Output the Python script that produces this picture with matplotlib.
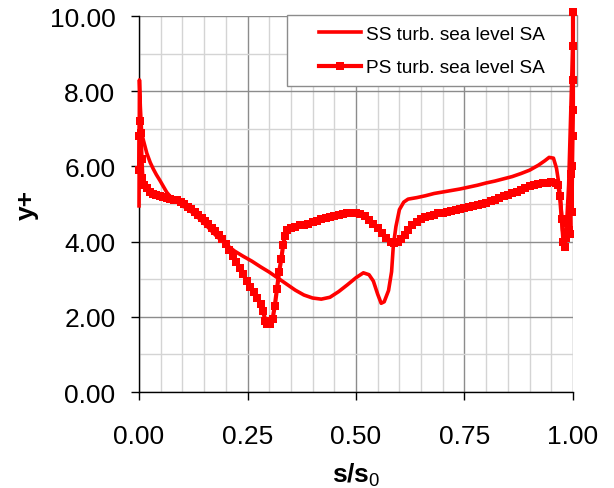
import matplotlib
matplotlib.use("Agg")
import matplotlib.pyplot as plt
from matplotlib.patches import Rectangle
from matplotlib.ticker import MultipleLocator

plt.rcParams['font.family'] = ['Liberation Sans', 'DejaVu Sans']
plt.rcParams['mathtext.fontset'] = 'custom'
plt.rcParams['mathtext.rm'] = 'Liberation Sans'
plt.rcParams['mathtext.bf'] = 'Liberation Sans:bold'

# suction side, y+ along the blade surface
ss_x = [0.000, 0.001, 0.003, 0.006, 0.010, 0.018, 0.026, 0.033, 0.040, 0.048,
        0.056, 0.064, 0.072, 0.080, 0.090, 0.100, 0.120, 0.140, 0.160, 0.180,
        0.200, 0.220, 0.240, 0.260, 0.280, 0.300, 0.320, 0.340, 0.360, 0.380,
        0.400, 0.420, 0.440, 0.460, 0.480, 0.500, 0.517, 0.530, 0.540, 0.550,
        0.558, 0.565, 0.575, 0.582, 0.586, 0.592, 0.600, 0.610, 0.620, 0.640,
        0.660, 0.680, 0.700, 0.720, 0.740, 0.760, 0.780, 0.800, 0.820, 0.840,
        0.860, 0.880, 0.900, 0.920, 0.935, 0.945, 0.955, 0.962, 0.968, 0.972,
        0.976, 0.980, 0.985, 0.990, 0.995, 1.000]
ss_y = [4.95, 8.30, 7.60, 6.90, 6.70, 6.35, 6.10, 5.93, 5.78, 5.63,
        5.47, 5.31, 5.20, 5.12, 5.05, 4.96, 4.80, 4.60, 4.37, 4.13,
        3.93, 3.75, 3.61, 3.48, 3.33, 3.19, 3.03, 2.87, 2.71, 2.58,
        2.50, 2.47, 2.52, 2.67, 2.85, 3.04, 3.17, 3.12, 2.95, 2.60,
        2.36, 2.40, 2.70, 3.20, 3.89, 4.40, 4.85, 5.05, 5.13, 5.17,
        5.22, 5.28, 5.32, 5.36, 5.40, 5.45, 5.50, 5.56, 5.61, 5.67,
        5.73, 5.81, 5.90, 6.03, 6.15, 6.24, 6.22, 5.95, 5.50, 5.00,
        4.30, 4.00, 4.40, 5.50, 7.50, 9.50]

# pressure side
ps_x = [0.000, 0.001, 0.002, 0.004, 0.006, 0.008, 0.012, 0.018, 0.025, 0.032,
        0.040, 0.048, 0.056, 0.064, 0.072, 0.080, 0.088, 0.096, 0.104, 0.112,
        0.120, 0.128, 0.136, 0.144, 0.152, 0.160, 0.168, 0.176, 0.184, 0.192,
        0.200, 0.208, 0.216, 0.224, 0.232, 0.240, 0.248, 0.256, 0.264, 0.272,
        0.280, 0.286, 0.291, 0.296, 0.302, 0.308, 0.313, 0.318, 0.323, 0.328,
        0.332, 0.336, 0.342, 0.350, 0.360, 0.370, 0.380, 0.390, 0.400, 0.410,
        0.420, 0.430, 0.440, 0.450, 0.460, 0.470, 0.480, 0.490, 0.500, 0.510,
        0.520, 0.530, 0.540, 0.550, 0.560, 0.570, 0.580, 0.588, 0.596, 0.604,
        0.612, 0.620, 0.630, 0.640, 0.650, 0.660, 0.670, 0.680, 0.690, 0.700,
        0.710, 0.720, 0.730, 0.740, 0.750, 0.760, 0.770, 0.780, 0.790, 0.800,
        0.810, 0.820, 0.830, 0.840, 0.850, 0.860, 0.870, 0.880, 0.890, 0.900,
        0.910, 0.920, 0.930, 0.940, 0.950, 0.960, 0.966, 0.970, 0.974, 0.978,
        0.981, 0.984, 0.987, 0.990, 0.992, 0.994, 0.996, 0.997, 0.998, 0.999,
        1.000, 1.000, 1.000, 1.000]
ps_y = [5.90, 6.80, 7.20, 6.90, 6.20, 5.70, 5.50, 5.42, 5.33, 5.27,
        5.23, 5.20, 5.18, 5.16, 5.14, 5.12, 5.10, 5.06, 5.00, 4.93,
        4.86, 4.79, 4.72, 4.64, 4.56, 4.47, 4.37, 4.27, 4.17, 4.06,
        3.93, 3.79, 3.62, 3.47, 3.30, 3.13, 2.96, 2.80, 2.65, 2.50,
        2.35, 2.15, 1.90, 1.80, 1.82, 1.95, 2.30, 2.75, 3.20, 3.55,
        3.90, 4.15, 4.30, 4.35, 4.40, 4.43, 4.45, 4.48, 4.51, 4.55,
        4.59, 4.63, 4.66, 4.69, 4.72, 4.74, 4.76, 4.76, 4.75, 4.73,
        4.67, 4.58, 4.47, 4.35, 4.22, 4.10, 4.00, 3.96, 3.98, 4.06,
        4.18, 4.30, 4.43, 4.53, 4.60, 4.65, 4.69, 4.72, 4.75, 4.77,
        4.79, 4.82, 4.84, 4.87, 4.89, 4.91, 4.94, 4.97, 5.00, 5.04,
        5.08, 5.12, 5.16, 5.20, 5.24, 5.28, 5.32, 5.37, 5.42, 5.47,
        5.50, 5.53, 5.55, 5.57, 5.58, 5.57, 5.50, 5.20, 4.60, 4.00,
        3.85, 4.10, 4.50, 4.30, 5.00, 4.20, 5.80, 4.80, 6.00, 6.80,
        7.50, 8.30, 9.20, 10.10]

ticks_x = [0.00, 0.25, 0.50, 0.75, 1.00]
ticks_y = [0.00, 2.00, 4.00, 6.00, 8.00, 10.00]

fig = plt.figure(figsize=(6.14, 4.89), dpi=100)
ax = fig.add_axes([0.2264, 0.1963, 0.7068, 0.7689])

ax.plot(ss_x, ss_y, color='#ff0000', lw=2.6, clip_on=False, zorder=3,
        label='SS turb. sea level SA')
ax.plot(ps_x, ps_y, color='#ff0000', lw=3.0, marker='s', ms=6.2, mew=0,
        clip_on=False, zorder=3, label='PS turb. sea level SA')

ax.set_xlim(0, 1)
ax.set_ylim(0, 10)
ax.set_xticks(ticks_x)
ax.set_yticks(ticks_y)
ax.set_xticklabels(['%.2f' % v for v in ticks_x])
ax.set_yticklabels(['%.2f' % v for v in ticks_y])
ax.xaxis.set_minor_locator(MultipleLocator(0.05))
ax.yaxis.set_minor_locator(MultipleLocator(1.0))
ax.tick_params(which='major', direction='out', length=6, width=1,
               labelsize=19, pad=11)
ax.tick_params(axis='x', which='major', pad=17)
ax.tick_params(which='minor', length=0)

ax.set_axisbelow(True)
ax.grid(which='major', color='#8c8c8c', lw=1)
ax.grid(which='minor', color='#d4d4d4', lw=1)
for s in ['top', 'right']:
    ax.spines[s].set_visible(False)
for s in ['left', 'bottom']:
    ax.spines[s].set_color('black')
    ax.spines[s].set_linewidth(1)

ax.set_xlabel('s/s$_0$', fontsize=19, fontweight='bold', labelpad=9)
ax.set_ylabel('y+', fontsize=19, fontweight='bold', labelpad=8)

# legend frame sits behind the curves, above the grid
ax.add_patch(Rectangle((0.341, 0.814), 0.668, 0.189, transform=ax.transAxes,
                       facecolor='white', edgecolor='#8c8c8c', lw=1,
                       clip_on=False, zorder=1))
leg = ax.legend(loc='upper left', bbox_to_anchor=(0.415, 0.975),
                frameon=False, fontsize=13.7, numpoints=1, handlelength=2.2,
                handletextpad=0.25, labelspacing=0.85, borderpad=0,
                borderaxespad=0)
leg.set_zorder(4)

fig.savefig('out.png', dpi=100)
